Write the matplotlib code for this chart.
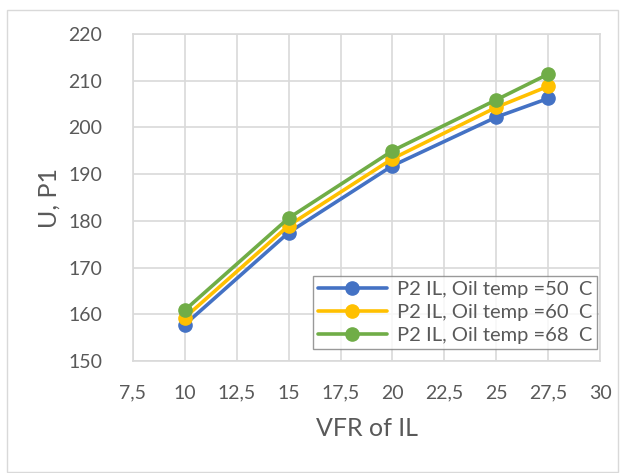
import matplotlib
matplotlib.use("Agg")
import matplotlib.pyplot as plt
from matplotlib.patches import Rectangle

plt.rcParams['font.family'] = ['Lato', 'DejaVu Sans']

x_vals = [10, 15, 20, 25, 27.5]
blue = [157.8, 177.5, 191.8, 202.2, 206.2]
yellow = [159.3, 179.0, 193.3, 204.3, 208.8]
green = [160.9, 180.6, 195.0, 205.9, 211.4]
labels = ["P2 IL, Oil temp =50  C", "P2 IL, Oil temp =60  C", "P2 IL, Oil temp =68  C"]
colors = ["#4472C4", "#FFC000", "#70AD47"]
x_ticks = [7.5, 10, 12.5, 15, 17.5, 20, 22.5, 25, 27.5, 30]
x_ticklabels = ["7,5", "10", "12,5", "15", "17,5", "20", "22,5", "25", "27,5", "30"]
y_ticks = [150, 160, 170, 180, 190, 200, 210, 220]

W, H = 624, 473
fig = plt.figure(figsize=(W/100, H/100), dpi=100)
fig.patches.append(Rectangle((7/W, 1 - 472/H), 611/W, 462/H, transform=fig.transFigure,
                             fill=False, edgecolor="#d9d9d9", linewidth=1))
ax = fig.add_axes([133/W, 1 - 361/H, (600-133)/W, (361-34)/H])

for ys, c, lab in zip([blue, yellow, green], colors, labels):
    ax.plot(x_vals, ys, color=c, linewidth=2.6, marker="o", markersize=9.5, label=lab,
            solid_capstyle="round")

ax.set_xlim(7.5, 30)
ax.set_ylim(150, 220)
ax.set_xticks(x_ticks)
ax.set_xticklabels(x_ticklabels)
ax.set_yticks(y_ticks)
ax.grid(True, color="#d9d9d9", linewidth=1.2)
ax.set_axisbelow(True)
for s in ax.spines.values():
    s.set_color("#d9d9d9")
    s.set_linewidth(1.2)
ax.tick_params(length=0, labelsize=14, labelcolor="#595959")
ax.tick_params(axis="y", pad=22)
ax.tick_params(axis="x", pad=17)
ax.set_xlabel("VFR of IL", fontsize=18, color="#595959", labelpad=11)
ax.set_ylabel("U, P1", fontsize=18, color="#595959", labelpad=6)

leg = ax.legend(loc="lower right", bbox_to_anchor=((597-133)/467, (361-349)/327), fontsize=14.5,
                frameon=True, fancybox=False, edgecolor="#808080", handlelength=3.4,
                borderpad=0.25, labelspacing=0.3, handletextpad=0.5, borderaxespad=0.0)
leg.get_frame().set_linewidth(1.0)
for t in leg.get_texts():
    t.set_color("#595959")

fig.savefig("out.png", dpi=100)
